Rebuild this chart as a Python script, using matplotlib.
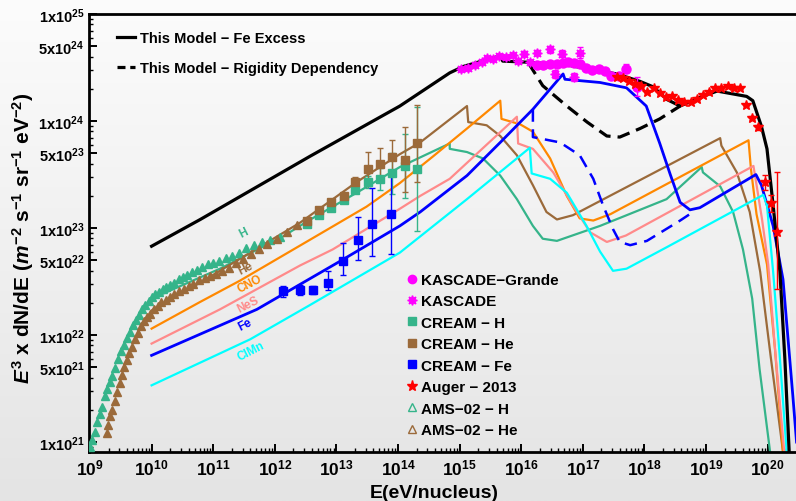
import numpy as np
import matplotlib
matplotlib.use('Agg')
import matplotlib.pyplot as plt
from matplotlib.lines import Line2D
from matplotlib.colors import LinearSegmentedColormap
from matplotlib.ticker import FixedLocator, LogLocator, NullFormatter

plt.rcParams['font.family'] = ['Liberation Sans', 'DejaVu Sans']
plt.rcParams['font.weight'] = 'bold'
plt.rcParams['mathtext.fontset'] = 'custom'
plt.rcParams['mathtext.rm'] = 'Liberation Sans:bold'
plt.rcParams['mathtext.bf'] = 'Liberation Sans:bold'
plt.rcParams['mathtext.it'] = 'Liberation Sans:bold:italic'
plt.rcParams['mathtext.default'] = 'rm'

# ---- data (log10 of E [eV/nucleus] and log10 of E^3 dN/dE) ----
# model, Fe excess (total)
tot_logE = [10.00, 10.79, 12.57, 14.03, 14.84, 15.06, 15.66, 15.70, 16.09, 16.68, 17.07, 17.55, 17.93, 18.14,
            18.37, 18.58, 18.85, 19.18, 19.66, 19.76, 19.90, 19.99, 20.09, 20.20, 20.28, 20.35]
tot_logF = [22.83, 23.08, 23.67, 24.14, 24.45, 24.51, 24.61, 24.56, 24.55, 24.53, 24.49, 24.44, 24.37, 24.32,
            24.20, 24.14, 24.21, 24.28, 24.23, 24.19, 23.95, 23.74, 23.21, 22.59, 21.78, 20.91]
# model, rigidity dependency (total)
rig_logE = [16.12, 16.35, 16.74, 17.07, 17.39, 17.60, 17.93, 18.25, 18.58]
rig_logF = [24.54, 24.33, 24.14, 23.99, 23.86, 23.85, 23.93, 24.02, 24.14]

h_logE = [10.00, 11.11, 12.13, 12.52, 13.33, 14.03, 14.36, 14.84, 14.84, 15.12, 15.38, 15.66, 15.93, 16.19,
          16.35, 16.58, 17.28, 18.36, 18.93, 18.95, 19.23, 19.44, 19.60, 19.75, 19.87, 20.04]
h_logF = [22.34, 22.62, 22.92, 23.06, 23.33, 23.57, 23.66, 23.79, 23.74, 23.71, 23.65, 23.49, 23.27, 23.02,
          22.90, 22.88, 23.02, 23.27, 23.57, 23.52, 23.39, 23.15, 22.80, 22.34, 21.68, 20.91]

he_logE = [10.00, 10.79, 12.41, 13.33, 14.03, 14.36, 15.12, 15.14, 15.44, 15.66, 15.93, 16.19, 16.41, 16.58,
           16.84, 19.23, 19.25, 19.50, 19.71, 19.88, 20.05, 20.25]
he_logF = [22.23, 22.49, 23.05, 23.43, 23.69, 23.80, 24.14, 23.99, 23.96, 23.86, 23.68, 23.40, 23.15, 23.08,
           23.12, 23.84, 23.77, 23.52, 23.15, 22.59, 21.80, 20.91]

cno_logE = [10.00, 10.79, 11.44, 12.57, 13.49, 14.03, 14.57, 15.12, 15.66, 15.68, 15.98, 16.19, 16.47, 16.74,
            16.95, 17.17, 17.45, 19.69, 19.73, 19.82, 19.99, 20.12, 20.25]
cno_logF = [22.06, 22.31, 22.51, 22.89, 23.20, 23.42, 23.67, 23.93, 24.19, 24.02, 23.97, 23.90, 23.65, 23.30,
            23.09, 23.07, 23.13, 23.82, 23.55, 23.13, 22.66, 21.87, 20.91]

nes_logE = [10.00, 11.11, 12.41, 12.94, 14.03, 14.36, 14.84, 15.93, 15.95, 16.19, 16.52, 16.84, 17.12, 17.39,
            17.70, 19.77, 19.81, 19.91, 20.01, 20.12, 20.27]
nes_logF = [21.92, 22.24, 22.65, 22.80, 23.18, 23.30, 23.46, 24.04, 23.79, 23.74, 23.52, 23.21, 22.96, 22.87,
            22.93, 23.58, 23.44, 23.08, 22.66, 21.87, 20.91]

fe_logE = [10.00, 11.71, 13.06, 14.03, 14.36, 15.12, 15.66, 16.19, 16.68, 16.71, 17.28, 17.71, 18.03, 18.25,
           18.42, 18.58, 18.74, 18.90, 19.81, 19.90, 20.09, 20.25, 20.41, 20.47]
fe_logF = [21.81, 22.24, 22.69, 23.02, 23.15, 23.49, 23.80, 24.11, 24.44, 24.39, 24.36, 24.31, 24.14, 23.79,
           23.50, 23.24, 23.17, 23.19, 23.50, 23.40, 23.02, 22.52, 21.43, 21.00]
fe_rig_logE = [16.19, 16.19, 16.63, 16.95, 17.17, 17.33, 17.49, 17.60, 17.77, 18.04, 18.58, 18.79]
fe_rig_logF = [24.11, 23.85, 23.80, 23.68, 23.46, 23.21, 22.99, 22.87, 22.84, 22.88, 23.07, 23.15]

clmn_logE = [10.00, 11.60, 12.57, 14.03, 15.12, 16.14, 16.17, 16.47, 16.74, 17.06, 17.28, 17.49, 17.71, 18.36,
             19.93, 19.99, 20.09, 20.20, 20.31]
clmn_logF = [21.53, 21.96, 22.28, 22.77, 23.27, 23.75, 23.51, 23.46, 23.33, 23.02, 22.78, 22.60, 22.62, 22.82,
             23.31, 23.21, 22.59, 21.78, 20.91]

# AMS-02
ams_h_logE = [9.00, 9.04, 9.08, 9.12, 9.16, 9.20, 9.24, 9.28, 9.32, 9.36, 9.40, 9.45, 9.50, 9.55, 9.60, 9.65,
              9.70, 9.75, 9.80, 9.85, 9.90, 9.95, 10.00, 10.06, 10.12, 10.18, 10.24, 10.30, 10.37, 10.44, 10.51,
              10.58, 10.66, 10.74, 10.82, 10.91, 11.00, 11.10, 11.20, 11.31, 11.42, 11.54, 11.66, 11.79, 11.93,
              12.08]
ams_h_logF = [20.95, 21.02, 21.09, 21.19, 21.26, 21.33, 21.43, 21.50, 21.56, 21.62, 21.69, 21.78, 21.85, 21.91,
              21.97, 22.03, 22.09, 22.14, 22.19, 22.24, 22.28, 22.32, 22.36, 22.38, 22.40, 22.43, 22.45, 22.47,
              22.49, 22.52, 22.54, 22.56, 22.59, 22.61, 22.64, 22.66, 22.67, 22.69, 22.72, 22.74, 22.77, 22.81,
              22.84, 22.87, 22.89, 22.92]
ams_he_logE = [9.27, 9.30, 9.33, 9.36, 9.40, 9.44, 9.48, 9.52, 9.56, 9.60, 9.64, 9.68, 9.73, 9.78, 9.83, 9.88,
               9.93, 9.98, 10.04, 10.10, 10.16, 10.23, 10.30, 10.37, 10.44, 10.52, 10.60, 10.68, 10.77, 10.86,
               10.95, 11.05, 11.15, 11.26, 11.37, 11.49, 11.61, 11.74, 11.88, 12.03, 12.19, 12.36]
ams_he_logF = [21.08, 21.16, 21.24, 21.30, 21.38, 21.47, 21.55, 21.63, 21.70, 21.77, 21.83, 21.89, 21.96, 22.02,
               22.08, 22.13, 22.17, 22.20, 22.24, 22.27, 22.31, 22.33, 22.36, 22.38, 22.41, 22.43, 22.46, 22.48,
               22.51, 22.53, 22.55, 22.57, 22.60, 22.63, 22.67, 22.71, 22.76, 22.80, 22.85, 22.90, 22.96, 23.03]

# CREAM
cream_logE = [12.52, 12.71, 12.91, 13.12, 13.31, 13.51, 13.71, 13.91, 14.11, 14.31]
cream_h_logF = [23.04, 23.12, 23.19, 23.26, 23.36, 23.43, 23.46, 23.51, 23.58, 23.55]
cream_h_err = [0.02, 0.02, 0.02, 0.02, 0.03, 0.06, 0.10, 0.19, 0.30, 0.58]
cream_he_logF = [23.07, 23.17, 23.24, 23.30, 23.43, 23.55, 23.60, 23.66, 23.64, 23.79]
cream_he_err = [0.02, 0.02, 0.02, 0.03, 0.05, 0.16, 0.15, 0.16, 0.30, 0.36]
cream_fe_logE = [12.14, 12.41, 12.62, 12.86, 13.10, 13.35, 13.58, 13.89]
cream_fe_logF = [22.41, 22.42, 22.42, 22.49, 22.69, 22.89, 23.04, 23.13]
cream_fe_lo = [0.05, 0.05, 0.04, 0.07, 0.13, 0.19, 0.30, 0.37]
cream_fe_hi = [0.05, 0.05, 0.04, 0.11, 0.17, 0.21, 0.33, 0.38]

# KASCADE / KASCADE-Grande
kas_logE = [15.03, 15.14, 15.25, 15.36, 15.45, 15.55, 15.64, 15.75, 15.86, 15.95, 16.05, 16.14, 16.25, 16.46,
            16.55, 16.66, 16.85, 16.95]
kas_logF = [24.49, 24.50, 24.52, 24.55, 24.59, 24.58, 24.61, 24.60, 24.62, 24.56, 24.63, 24.55, 24.64, 24.67,
            24.44, 24.63, 24.41, 24.64]
kas_err = [0.01, 0.01, 0.01, 0.01, 0.01, 0.01, 0.01, 0.01, 0.01, 0.01, 0.02, 0.02, 0.02, 0.03, 0.04, 0.03,
           0.04, 0.05]
kg_logE = [16.25, 16.36, 16.47, 16.58, 16.68, 16.76, 16.86, 16.95, 17.05, 17.15, 17.26, 17.36, 17.45, 17.58,
           17.70, 17.88]
kg_logF = [24.52, 24.52, 24.53, 24.53, 24.54, 24.55, 24.54, 24.53, 24.50, 24.48, 24.49, 24.47, 24.42, 24.42,
           24.49, 24.32]
kg_err = [0.01, 0.01, 0.01, 0.01, 0.01, 0.01, 0.01, 0.01, 0.01, 0.01, 0.01, 0.02, 0.02, 0.02, 0.04, 0.09]

# Auger 2013
aug_logE = [17.55, 17.65, 17.75, 17.85, 17.95, 18.05, 18.15, 18.25, 18.35, 18.45, 18.55, 18.65, 18.75, 18.85,
            18.95, 19.05, 19.15, 19.25, 19.35, 19.45, 19.55, 19.65, 19.75, 19.85, 19.95, 20.05, 20.15]
aug_logF = [24.41, 24.40, 24.37, 24.35, 24.33, 24.27, 24.31, 24.26, 24.22, 24.23, 24.20, 24.18, 24.18, 24.21,
            24.24, 24.27, 24.31, 24.31, 24.33, 24.31, 24.31, 24.15, 24.03, 23.94, 23.43, 23.23, 22.96]
aug_lo = [0.01, 0.01, 0.01, 0.01, 0.01, 0.01, 0.01, 0.01, 0.01, 0.01, 0.01, 0.01, 0.01, 0.01, 0.01, 0.01,
          0.01, 0.01, 0.01, 0.01, 0.01, 0.01, 0.02, 0.02, 0.07, 0.08, 0.53]
aug_hi = [0.01, 0.01, 0.01, 0.01, 0.01, 0.01, 0.01, 0.01, 0.01, 0.01, 0.01, 0.01, 0.01, 0.01, 0.01, 0.01,
          0.01, 0.01, 0.01, 0.01, 0.01, 0.01, 0.02, 0.02, 0.07, 0.08, 0.56]

species = ['H', 'He', 'CNO', 'NeS', 'Fe', 'ClMn']
colors = {'H': '#35b48a', 'He': '#9b6a3a', 'CNO': '#ff8800', 'NeS': '#ff8a8a', 'Fe': '#0000ff', 'ClMn': '#00ffff'}


def p(v):
    return 10.0 ** np.asarray(v)


def logerr(logF, lo, hi):
    F = p(logF)
    return [F - p(np.asarray(logF) - np.asarray(lo)), p(np.asarray(logF) + np.asarray(hi)) - F]


fig = plt.figure(figsize=(7.96, 5.02), dpi=100)

# light gray gradient background
bg = fig.add_axes([0, 0, 1, 1], zorder=-10)
bg.imshow(np.linspace(0, 1, 256).reshape(-1, 1), aspect='auto', extent=[0, 1, 0, 1],
          cmap=LinearSegmentedColormap.from_list('bg', ['#fcfcfc', '#e4e4e4']))
bg.axis('off')

ax = fig.add_axes([0.1112, 0.0976, 0.8888, 0.8725])
ax.set_facecolor('none')
ax.set_xscale('log')
ax.set_yscale('log')

# model curves
model = {'H': (h_logE, h_logF), 'He': (he_logE, he_logF), 'CNO': (cno_logE, cno_logF),
         'NeS': (nes_logE, nes_logF), 'Fe': (fe_logE, fe_logF), 'ClMn': (clmn_logE, clmn_logF)}
for s in species:
    lw = 2.0 if s == 'Fe' else 1.6
    ax.plot(p(model[s][0]), p(model[s][1]), color=colors[s], lw=lw, zorder=2)
ax.plot(p(fe_rig_logE), p(fe_rig_logF), color=colors['Fe'], lw=1.8, ls=(0, (5, 3)), zorder=2)
ax.plot(p(tot_logE), p(tot_logF), color='black', lw=2.3, zorder=2.5)
ax.plot(p(rig_logE), p(rig_logF), color='black', lw=2.3, ls=(0, (4, 2.2)), zorder=2.5)

# data
ax.plot(p(ams_h_logE), p(ams_h_logF), '^', color=colors['H'], ms=5.5, zorder=3)
ax.plot(p(ams_he_logE), p(ams_he_logF), '^', color=colors['He'], ms=5.5, zorder=3)
ax.errorbar(p(cream_logE), p(cream_h_logF), yerr=logerr(cream_h_logF, cream_h_err, cream_h_err),
            fmt='s', color=colors['H'], ms=6, elinewidth=1, capsize=2, zorder=3)
ax.errorbar(p(cream_logE), p(cream_he_logF), yerr=logerr(cream_he_logF, cream_he_err, cream_he_err),
            fmt='s', color=colors['He'], ms=6, elinewidth=1, capsize=2, zorder=3)
ax.errorbar(p(cream_fe_logE), p(cream_fe_logF), yerr=logerr(cream_fe_logF, cream_fe_lo, cream_fe_hi),
            fmt='s', color=colors['Fe'], ms=6, elinewidth=1, capsize=2, zorder=3)
ax.errorbar(p(kas_logE), p(kas_logF), yerr=logerr(kas_logF, kas_err, kas_err),
            fmt='none', ecolor='#ff00ff', elinewidth=1, capsize=2, zorder=3)
ax.plot(p(kas_logE), p(kas_logF), ls='none', marker=(8, 1, 0), color='#ff00ff', ms=7, zorder=3)
ax.errorbar(p(kg_logE), p(kg_logF), yerr=logerr(kg_logF, kg_err, kg_err),
            fmt='o', color='#ff00ff', ms=6.5, elinewidth=1, capsize=2, zorder=3)
ax.errorbar(p(aug_logE), p(aug_logF), yerr=logerr(aug_logF, aug_lo, aug_hi),
            fmt='*', color='#ff0000', ms=7.5, elinewidth=1, capsize=2, zorder=3)

# species labels on the curves
label_pos = {'H': (11.49, 22.96), 'He': (11.52, 22.63), 'CNO': (11.60, 22.48),
             'NeS': (11.57, 22.29), 'Fe': (11.52, 22.10), 'ClMn': (11.62, 21.85)}
for s in species:
    ax.text(10 ** label_pos[s][0], 10 ** label_pos[s][1], s, color=colors[s], fontsize=8.5,
            fontweight='bold', rotation=27, ha='center', va='center', zorder=5)

# axes
ax.set_xlim(10 ** 8.976, 10 ** 20.461)
ax.set_ylim(10 ** 20.907, 1e25)
xt = [10.0 ** k for k in range(9, 21)]
ax.xaxis.set_major_locator(FixedLocator(xt))
ax.set_xticklabels([r'$10^{%d}$' % k for k in range(9, 21)])
ax.xaxis.set_minor_locator(LogLocator(base=10, subs=range(2, 10), numticks=50))
ax.xaxis.set_minor_formatter(NullFormatter())
yt, ylab = [], []
for k in range(21, 25):
    yt += [10.0 ** k, 5 * 10.0 ** k]
    ylab += [r'$1x10^{%d}$' % k, r'$5x10^{%d}$' % k]
yt.append(1e25)
ylab.append(r'$1x10^{25}$')
ax.yaxis.set_major_locator(FixedLocator(yt))
ax.set_yticklabels(ylab)
ax.yaxis.set_minor_locator(LogLocator(base=10, subs=[2, 3, 4, 6, 7, 8, 9], numticks=50))
ax.yaxis.set_minor_formatter(NullFormatter())
ax.tick_params(which='major', direction='in', length=6, width=1.4, top=False, right=False)
ax.tick_params(which='minor', direction='in', length=3, width=1.0, top=False, right=False)
ax.tick_params(axis='x', labelsize=12.5, pad=4)
ax.tick_params(axis='y', labelsize=10.5, pad=3)
for side in ['left', 'bottom', 'top']:
    ax.spines[side].set_linewidth(2)
ax.spines['right'].set_visible(False)

ax.set_xlabel('E(eV/nucleus)', fontsize=14, fontweight='bold')
ax.xaxis.set_label_coords(0.489, -0.073)
ax.set_ylabel(r'$\mathit{E}^{3}$ x dN/dE ($\mathit{m}^{-2}$ s$^{-1}$ sr$^{-1}$ eV$^{-2}$)',
              fontsize=15, fontweight='bold')
ax.yaxis.set_label_coords(-0.074, 0.49)

# legends
h1 = [Line2D([], [], color='black', lw=2.3),
      Line2D([], [], color='black', lw=2.3, ls=(0, (2.5, 1.5)))]
leg1 = ax.legend(h1, ['This Model − Fe Excess', 'This Model − Rigidity Dependency'],
                 loc='upper left', bbox_to_anchor=(0.040, 0.961), frameon=False,
                 prop={'size': 10.5, 'weight': 'bold'}, handlelength=1.25, handletextpad=0.35,
                 labelspacing=1.09, borderpad=0, borderaxespad=0)
ax.add_artist(leg1)

h2 = [Line2D([], [], ls='none', marker='o', color='#ff00ff', ms=6),
      Line2D([], [], ls='none', marker=(8, 1, 0), color='#ff00ff', ms=7),
      Line2D([], [], ls='none', marker='s', color=colors['H'], ms=6),
      Line2D([], [], ls='none', marker='s', color=colors['He'], ms=6),
      Line2D([], [], ls='none', marker='s', color=colors['Fe'], ms=6),
      Line2D([], [], ls='none', marker='*', color='#ff0000', ms=8),
      Line2D([], [], ls='none', marker='^', mfc='none', mec=colors['H'], ms=6),
      Line2D([], [], ls='none', marker='^', mfc='none', mec=colors['He'], ms=6)]
l2 = ['KASCADE−Grande', 'KASCADE', 'CREAM − H', 'CREAM − He', 'CREAM − Fe', 'Auger − 2013',
      'AMS−02 − H', 'AMS−02 − He']
ax.legend(h2, l2, loc='upper left', bbox_to_anchor=(0.451, 0.409), frameon=False,
          prop={'size': 11, 'weight': 'bold'}, handlelength=0.6, handletextpad=0.3,
          labelspacing=0.49, borderpad=0, borderaxespad=0)

fig.savefig('out.png', dpi=100)
